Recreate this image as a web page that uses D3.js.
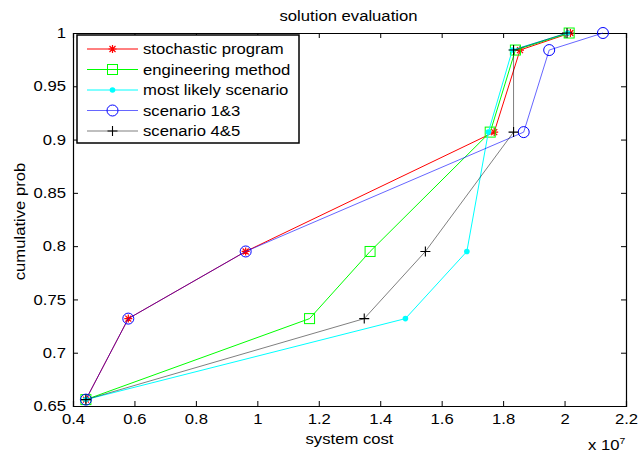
<!DOCTYPE html>
<html>
<head>
<meta charset="utf-8">
<script src="https://cdn.jsdelivr.net/npm/d3@7"></script>
<style>
  body { margin: 0; background: #fff; }
  svg { font-family: "Liberation Sans", Arial, sans-serif; }
</style>
</head>
<body>
<svg id="chart" width="643" height="455"></svg>
<script>
// cumulative probabilities shared by every series
const probs = [0.656, 0.732, 0.795, 0.907, 0.984, 1.0];

// system cost of each solution (same order as probs)
const stochasticProgram = [4.42e6, 5.8e6, 9.62e6, 1.771e7, 1.855e7, 2.019e7];
const engineeringMethod = [4.42e6, 1.17e7, 1.367e7, 1.758e7, 1.84e7, 2.015e7];
const mostLikelyScenario = [4.42e6, 1.482e7, 1.682e7, 1.752e7, 1.83e7, 2.01e7];
const scenario13 = [4.42e6, 5.8e6, 9.62e6, 1.867e7, 1.95e7, 2.125e7];
const scenario45 = [4.42e6, 1.348e7, 1.547e7, 1.834e7, 1.834e7, 2.008e7];

const seriesNames = ["stochastic program", "engineering method", "most likely scenario", "scenario 1&3", "scenario 4&5"];
const xTicks = [4e6, 6e6, 8e6, 1e7, 1.2e7, 1.4e7, 1.6e7, 1.8e7, 2e7, 2.2e7];
const yTicks = [0.65, 0.7, 0.75, 0.8, 0.85, 0.9, 0.95, 1];

const series = [
  { name: seriesNames[0], xs: stochasticProgram, color: "#ff0000", marker: "star", opacity: 1 },
  { name: seriesNames[1], xs: engineeringMethod, color: "#00ff00", marker: "square", opacity: 1 },
  { name: seriesNames[2], xs: mostLikelyScenario, color: "#00ffff", marker: "dot", opacity: 1 },
  { name: seriesNames[3], xs: scenario13, color: "#0000ff", marker: "circle", opacity: 0.6 },
  { name: seriesNames[4], xs: scenario45, color: "#000000", marker: "plus", opacity: 0.5 }
];

// matlab export text looks a bit wider than liberation sans, so stretch it
const FONT = 14.5;
const STRETCH = 1.15;

const svg = d3.select("#chart");
const margin = { left: 73, right: 17, top: 33, bottom: 49 };
const width = 643 - margin.left - margin.right;
const height = 455 - margin.top - margin.bottom;

const x = d3.scaleLinear().domain([4e6, 2.2e7]).range([0, width]);
const y = d3.scaleLinear().domain([0.65, 1]).range([height, 0]);

const g = svg.append("g").attr("transform", `translate(${margin.left},${margin.top})`);

// axes, matlab style: ticks point inward, box all round
const fmtX = v => d3.format("")(+(v / 1e7).toFixed(2));
const xAxis = g.append("g")
  .attr("transform", `translate(0,${height})`)
  .call(d3.axisBottom(x).tickValues(xTicks).tickSize(-5).tickPadding(8).tickFormat(fmtX));
g.append("g")
  .call(d3.axisTop(x).tickValues(xTicks).tickSize(-5).tickFormat(""));
const yAxis = g.append("g")
  .call(d3.axisLeft(y).tickValues(yTicks).tickSize(-5).tickPadding(7).tickFormat(d3.format("")));
g.append("g")
  .attr("transform", `translate(${width},0)`)
  .call(d3.axisRight(y).tickValues(yTicks).tickSize(-5).tickFormat(""));

g.selectAll(".domain").attr("stroke", "#000").attr("stroke-width", 1.2);
g.selectAll(".tick line").attr("stroke", "#000");
g.selectAll(".tick text").attr("font-size", FONT).attr("fill", "#000");
xAxis.selectAll(".tick text").attr("transform", `scale(${STRETCH},1)`);
yAxis.selectAll(".tick text")
  .attr("x", -7 / STRETCH)
  .attr("transform", `scale(${STRETCH},1)`);

function drawMarker(sel, type, color) {
  if (type === "star") {
    sel.append("path")
      .attr("d", "M-4,0H4M0,-4V4M-3,-3L3,3M-3,3L3,-3")
      .attr("stroke", color).attr("stroke-width", 1.2).attr("fill", "none");
  } else if (type === "square") {
    sel.append("rect")
      .attr("x", -5).attr("y", -5).attr("width", 10).attr("height", 10)
      .attr("stroke", color).attr("fill", "none");
  } else if (type === "dot") {
    sel.append("circle").attr("r", 2.8).attr("fill", color);
  } else if (type === "circle") {
    sel.append("circle").attr("r", 5.5)
      .attr("stroke", color).attr("fill", "none");
  } else if (type === "plus") {
    sel.append("path")
      .attr("d", "M-5,0H5M0,-5V5")
      .attr("stroke", color).attr("stroke-width", 1.1).attr("fill", "none");
  }
}

const line = d3.line().x(d => x(d[0])).y(d => y(d[1]));

series.forEach(s => {
  const pts = s.xs.map((v, i) => [v, probs[i]]);
  g.append("path")
    .datum(pts)
    .attr("d", line)
    .attr("fill", "none")
    .attr("stroke", s.color)
    .attr("stroke-opacity", s.opacity)
    .attr("stroke-width", 1);
  g.selectAll(null)
    .data(pts)
    .join("g")
    .attr("transform", d => `translate(${x(d[0])},${y(d[1])})`)
    .each(function () { drawMarker(d3.select(this), s.marker, s.color); });
});

function label(parent, px, py, str, anchor, rotate) {
  const rot = rotate ? ` rotate(${rotate})` : "";
  return parent.append("text")
    .attr("transform", `translate(${px},${py})${rot} scale(${STRETCH},1)`)
    .attr("text-anchor", anchor)
    .attr("font-size", FONT)
    .text(str);
}

// legend
const legend = g.append("g").attr("transform", "translate(4,2)");
legend.append("rect")
  .attr("width", 222).attr("height", 108)
  .attr("fill", "#fff").attr("stroke", "#000").attr("stroke-width", 1.5);
series.forEach((s, i) => {
  const row = legend.append("g").attr("transform", `translate(0,${14 + i * 20.5})`);
  row.append("line")
    .attr("x1", 10).attr("x2", 61)
    .attr("stroke", s.color)
    .attr("stroke-opacity", s.opacity);
  const m = row.append("g").attr("transform", "translate(35.5,0)");
  drawMarker(m, s.marker, s.color);
  label(row, 66, 5, s.name, "start");
});

// titles
label(svg, margin.left + width / 2 - 1, 21, "solution evaluation", "middle");
label(svg, margin.left + width / 2, 444, "system cost", "middle");
label(svg, 25, margin.top + height / 2 + 2, "cumulative prob", "middle", -90);
const exp = label(svg, 588, 450, "", "start");
exp.append("tspan").text("x 10");
exp.append("tspan").attr("dy", -6).attr("font-size", 9).text("7");
</script>
</body>
</html>
